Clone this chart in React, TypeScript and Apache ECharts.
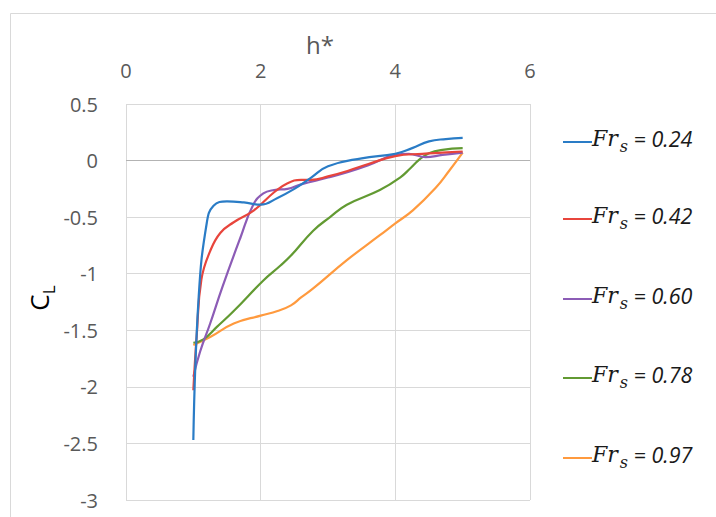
import React, { useEffect, useRef } from "react";
import * as echarts from "echarts";

// Froude numbers (legend)
const froude = ["0.24", "0.42", "0.60", "0.78", "0.97"];
const colors = ["#2a7cc6", "#e8453c", "#8c5cb6", "#629a32", "#ff9a3e"];

// h* values and C_L values
const h024 = [1.0, 1.08, 1.2, 1.3, 1.5, 1.75, 2.0, 2.25, 2.5, 2.75, 3.0, 3.5, 4.0, 4.25, 4.5, 4.75, 5.0];
const cl024 = [-2.47, -1.2, -0.55, -0.4, -0.36, -0.37, -0.39, -0.33, -0.25, -0.15, -0.05, 0.02, 0.06, 0.11, 0.17, 0.19, 0.2];

const h042 = [1.0, 1.05, 1.12, 1.25, 1.4, 1.6, 1.9, 2.2, 2.4, 2.6, 2.75, 3.0, 3.3, 3.6, 4.0, 4.4, 4.7, 5.0];
const cl042 = [-2.03, -1.55, -1.05, -0.8, -0.64, -0.545, -0.44, -0.28, -0.2, -0.17, -0.17, -0.14, -0.09, -0.03, 0.04, 0.06, 0.07, 0.08];

const h060 = [1.0, 1.1, 1.25, 1.43, 1.7, 1.89, 2.04, 2.2, 2.4, 2.6, 3.0, 3.3, 3.6, 4.0, 4.2, 4.45, 4.7, 5.0];
const cl060 = [-1.91, -1.69, -1.44, -1.12, -0.68, -0.39, -0.29, -0.26, -0.25, -0.21, -0.15, -0.1, -0.04, 0.05, 0.06, 0.03, 0.05, 0.07];

const h078 = [1.0, 1.15, 1.35, 1.6, 2.04, 2.29, 2.45, 2.78, 3.03, 3.28, 3.77, 4.07, 4.22, 4.36, 4.5, 4.7, 5.0];
const cl078 = [-1.61, -1.58, -1.47, -1.33, -1.06, -0.93, -0.84, -0.62, -0.5, -0.39, -0.26, -0.15, -0.07, 0.01, 0.065, 0.095, 0.11];

const h097 = [1.0, 1.25, 1.6, 2.0, 2.25, 2.45, 2.6, 2.78, 3.28, 3.77, 4.0, 4.26, 4.6, 4.8, 5.0];
const cl097 = [-1.63, -1.56, -1.44, -1.37, -1.33, -1.28, -1.21, -1.13, -0.88, -0.66, -0.555, -0.44, -0.24, -0.09, 0.07];

const hSets = [h024, h042, h060, h078, h097];
const clSets = [cl024, cl042, cl060, cl078, cl097];

const legendCenters = [142, 219, 299, 378, 458];

export default function App() {
  const ref = useRef<HTMLDivElement>(null);
  useEffect(() => {
    document.body.style.margin = "0";
    const chart = echarts.init(ref.current!, undefined, { renderer: "svg" });
    const labelColor = "#595959";
    const rich = {
      f: { fontFamily: "DejaVu Serif", fontStyle: "italic", fontSize: 22, color: "#1a1a1a", lineHeight: 24, padding: [0, 2, 5, 0], verticalAlign: "bottom" },
      s: { fontFamily: "DejaVu Serif", fontStyle: "italic", fontSize: 16, color: "#1a1a1a", lineHeight: 16, verticalAlign: "bottom" },
      n: { fontFamily: "Open Sans", fontStyle: "italic", fontSize: 21.5, color: "#1a1a1a", lineHeight: 24, padding: [0, 0, 5, 0], verticalAlign: "bottom" },
    };
    chart.setOption({
      animation: false,
      backgroundColor: "#fff",
      grid: { left: 126, top: 104, width: 404, height: 396, containLabel: false },
      xAxis: {
        type: "value",
        position: "top",
        min: 0,
        max: 6,
        interval: 2,
        axisLine: { show: false },
        axisTick: { show: false },
        axisLabel: { color: labelColor, fontSize: 20, fontFamily: "Open Sans", margin: 24 },
        splitLine: { show: true, lineStyle: { color: "#d9d9d9", width: 1 } },
      },
      yAxis: {
        type: "value",
        min: -3,
        max: 0.5,
        interval: 0.5,
        axisLine: { show: false },
        axisTick: { show: false },
        axisLabel: { color: labelColor, fontSize: 20, fontFamily: "Open Sans", margin: 28 },
        splitLine: { show: true, lineStyle: { color: "#d9d9d9", width: 1 } },
      },
      legend: froude.map((name, i) => ({
        data: [`Fr_s = ${name}`],
        left: 563,
        top: legendCenters[i] - 15,
        padding: 0,
        icon: "rect",
        itemWidth: 29,
        itemHeight: 2,
        itemGap: 0,
        formatter: () => `{f|Fr}{s|s}{n| = ${name}}`,
        textStyle: { rich, padding: [0, 0, 0, -5] },
        selectedMode: false,
      })),
      series: froude.map((name, i) => ({
        type: "line",
        name: `Fr_s = ${name}`,
        data: hSets[i].map((h, k) => [h, clSets[i][k]]),
        smooth: 0.45,
        symbol: "none",
        color: colors[i],
        lineStyle: { width: 2.2, color: colors[i] },
        z: 10 - i,
        markLine:
          i === 0
            ? {
                silent: true,
                symbol: "none",
                label: { show: false },
                lineStyle: { color: "#b3b3b3", width: 1.2, type: "solid" },
                data: [{ yAxis: 0 }],
                z: 1,
              }
            : undefined,
      })),
      graphic: [
        {
          type: "rect",
          left: 8,
          top: 11,
          shape: { width: 740, height: 540 },
          style: { fill: "none", stroke: "#d9d9d9", lineWidth: 1 },
          silent: true,
        },
        {
          type: "text",
          x: 320,
          y: 44,
          style: { text: "h*", fontSize: 24, fontFamily: "Open Sans", fill: labelColor, align: "center", verticalAlign: "middle" },
        },
        {
          type: "text",
          x: 43,
          y: 298,
          rotation: Math.PI / 2,
          style: {
            text: "{c|C}{l|L}",
            align: "center",
            verticalAlign: "middle",
            rich: {
              c: { fontSize: 26, fontFamily: "Open Sans", color: labelColor, lineHeight: 28, padding: [0, 0, 5, 0], verticalAlign: "bottom" },
              l: { fontSize: 17, fontFamily: "Open Sans", color: labelColor, lineHeight: 19, verticalAlign: "bottom" },
            },
          },
        },
      ],
    });
    return () => chart.dispose();
  }, []);
  return <div ref={ref} style={{ width: 716, height: 517 }} />;
}
